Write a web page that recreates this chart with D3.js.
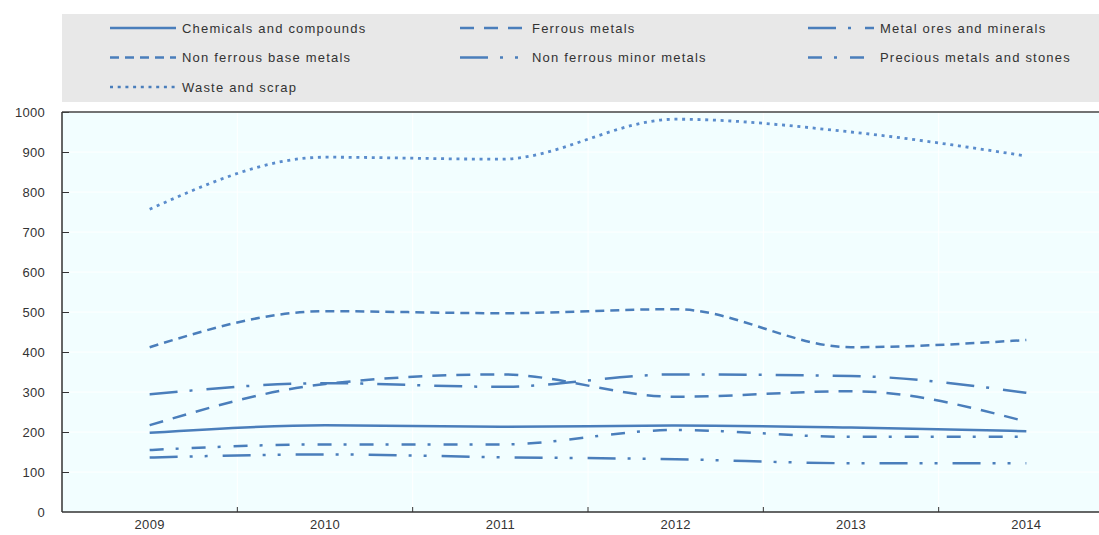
<!DOCTYPE html>
<html>
<head>
<meta charset="utf-8">
<script src="https://cdn.jsdelivr.net/npm/d3@7"></script>
<style>
  body { margin: 0; background: #fff; }
  text { font-family: "Liberation Sans", Arial, sans-serif; fill: #333; }
</style>
</head>
<body>
<svg id="chart" width="1099" height="535"></svg>
<script>
// data
var years = ["2009", "2010", "2011", "2012", "2013", "2014"];
var seriesNames = ["Chemicals and compounds", "Ferrous metals", "Metal ores and minerals",
                   "Non ferrous base metals", "Non ferrous minor metals", "Precious metals and stones",
                   "Waste and scrap"];
var chemicals   = [198, 217, 213, 216, 211, 202];
var ferrous     = [217, 320, 344, 288, 302, 226];
var metalOres   = [294, 322, 313, 344, 340, 298];
var nonFerrBase = [412, 502, 497, 507, 412, 430];
var nonFerrMin  = [136, 144, 137, 132, 122, 122];
var precious    = [155, 169, 169, 205, 188, 188];
var waste       = [757, 887, 882, 982, 950, 890];
var yTicks = [0, 100, 200, 300, 400, 500, 600, 700, 800, 900, 1000];

var allValues = [chemicals, ferrous, metalOres, nonFerrBase, nonFerrMin, precious, waste];
var dashes = ["none", "14,10", "28,12,3,14", "9,6", "28,12,3,12,3,15", "14,12,3,13", "3,4.7"];

var svg = d3.select("#chart");
var blue = "#4a7ebb";

var margin = {left: 62, top: 112, bottom: 512};
var plotRight = 1114;

var x = d3.scaleBand().domain(years).range([margin.left, plotRight]);
var y = d3.scaleLinear().domain([0, 1000]).range([margin.bottom, margin.top]);

// legend box
svg.append("rect")
    .attr("x", 62).attr("y", 14)
    .attr("width", plotRight - 62).attr("height", 88)
    .attr("fill", "#e8e8e8");

var legendCols = [110, 460, 808];
var legendRows = [28, 57.5, 87];
seriesNames.forEach(function(name, i) {
    var cx = legendCols[i % 3], cy = legendRows[Math.floor(i / 3)];
    svg.append("line")
        .attr("x1", cx).attr("x2", cx + 66)
        .attr("y1", cy).attr("y2", cy)
        .attr("stroke", blue)
        .attr("stroke-width", 2.5)
        .attr("stroke-dasharray", dashes[i]);
    svg.append("text")
        .attr("x", cx + 72).attr("y", cy)
        .attr("dy", "0.35em")
        .attr("font-size", 13)
        .attr("letter-spacing", 1.2)
        .text(name);
});

// plot background
svg.append("rect")
    .attr("x", margin.left).attr("y", margin.top)
    .attr("width", plotRight - margin.left).attr("height", margin.bottom - margin.top)
    .attr("fill", "#f2feff");

// grid lines
svg.append("g").selectAll("line")
    .data(yTicks.slice(1))
    .enter().append("line")
    .attr("x1", margin.left).attr("x2", plotRight)
    .attr("y1", function(d) { return y(d); })
    .attr("y2", function(d) { return y(d); })
    .attr("stroke", "#fff").attr("stroke-width", 1);

svg.append("g").selectAll("line")
    .data(years.slice(1))
    .enter().append("line")
    .attr("x1", function(d) { return x(d); })
    .attr("x2", function(d) { return x(d); })
    .attr("y1", margin.top).attr("y2", margin.bottom)
    .attr("stroke", "#fff").attr("stroke-width", 1);

// series
var line = d3.line()
    .x(function(d, i) { return x(years[i]) + x.bandwidth() / 2; })
    .y(function(d) { return y(d); })
    .curve(d3.curveMonotoneX);

allValues.forEach(function(vals, i) {
    svg.append("path")
        .datum(vals)
        .attr("d", line)
        .attr("fill", "none")
        .attr("stroke", i == 6 ? "#5a8ccc" : blue)
        .attr("stroke-width", i == 6 ? 2.8 : 2.5)
        .attr("stroke-dasharray", dashes[i]);
});

// y axis
var yAxis = svg.append("g")
    .attr("transform", "translate(" + margin.left + ",0)")
    .call(d3.axisRight(y).tickValues(yTicks).tickSize(7).tickFormat(function(d) { return d; }));
yAxis.select(".domain").remove();
yAxis.selectAll(".tick line").attr("stroke", "#333");
yAxis.selectAll(".tick text")
    .attr("x", -17).attr("text-anchor", "end")
    .attr("font-size", 13).attr("font-family", null)
    .attr("letter-spacing", 0.3).attr("fill", "#333");
yAxis.selectAll(".tick").filter(function(d) { return d == 0; }).select("line").remove();

// x axis ticks at band edges, pointing up
svg.append("g").selectAll("line")
    .data(years.slice(1))
    .enter().append("line")
    .attr("x1", function(d) { return x(d); })
    .attr("x2", function(d) { return x(d); })
    .attr("y1", margin.bottom - 5).attr("y2", margin.bottom)
    .attr("stroke", "#333");

svg.append("g").selectAll("text")
    .data(years)
    .enter().append("text")
    .attr("x", function(d) { return x(d) + x.bandwidth() / 2; })
    .attr("y", 524)
    .attr("dy", "0.35em")
    .attr("text-anchor", "middle")
    .attr("font-size", 13)
    .attr("letter-spacing", 0.3)
    .text(function(d) { return d; });

// frame
svg.append("line")
    .attr("x1", margin.left).attr("x2", plotRight)
    .attr("y1", margin.top).attr("y2", margin.top)
    .attr("stroke", "#444").attr("stroke-width", 1.5);
svg.append("line")
    .attr("x1", margin.left).attr("x2", plotRight)
    .attr("y1", margin.bottom).attr("y2", margin.bottom)
    .attr("stroke", "#333").attr("stroke-width", 1.5);
svg.append("line")
    .attr("x1", margin.left).attr("x2", margin.left)
    .attr("y1", margin.top).attr("y2", margin.bottom)
    .attr("stroke", "#333").attr("stroke-width", 1.5);
</script>
</body>
</html>
